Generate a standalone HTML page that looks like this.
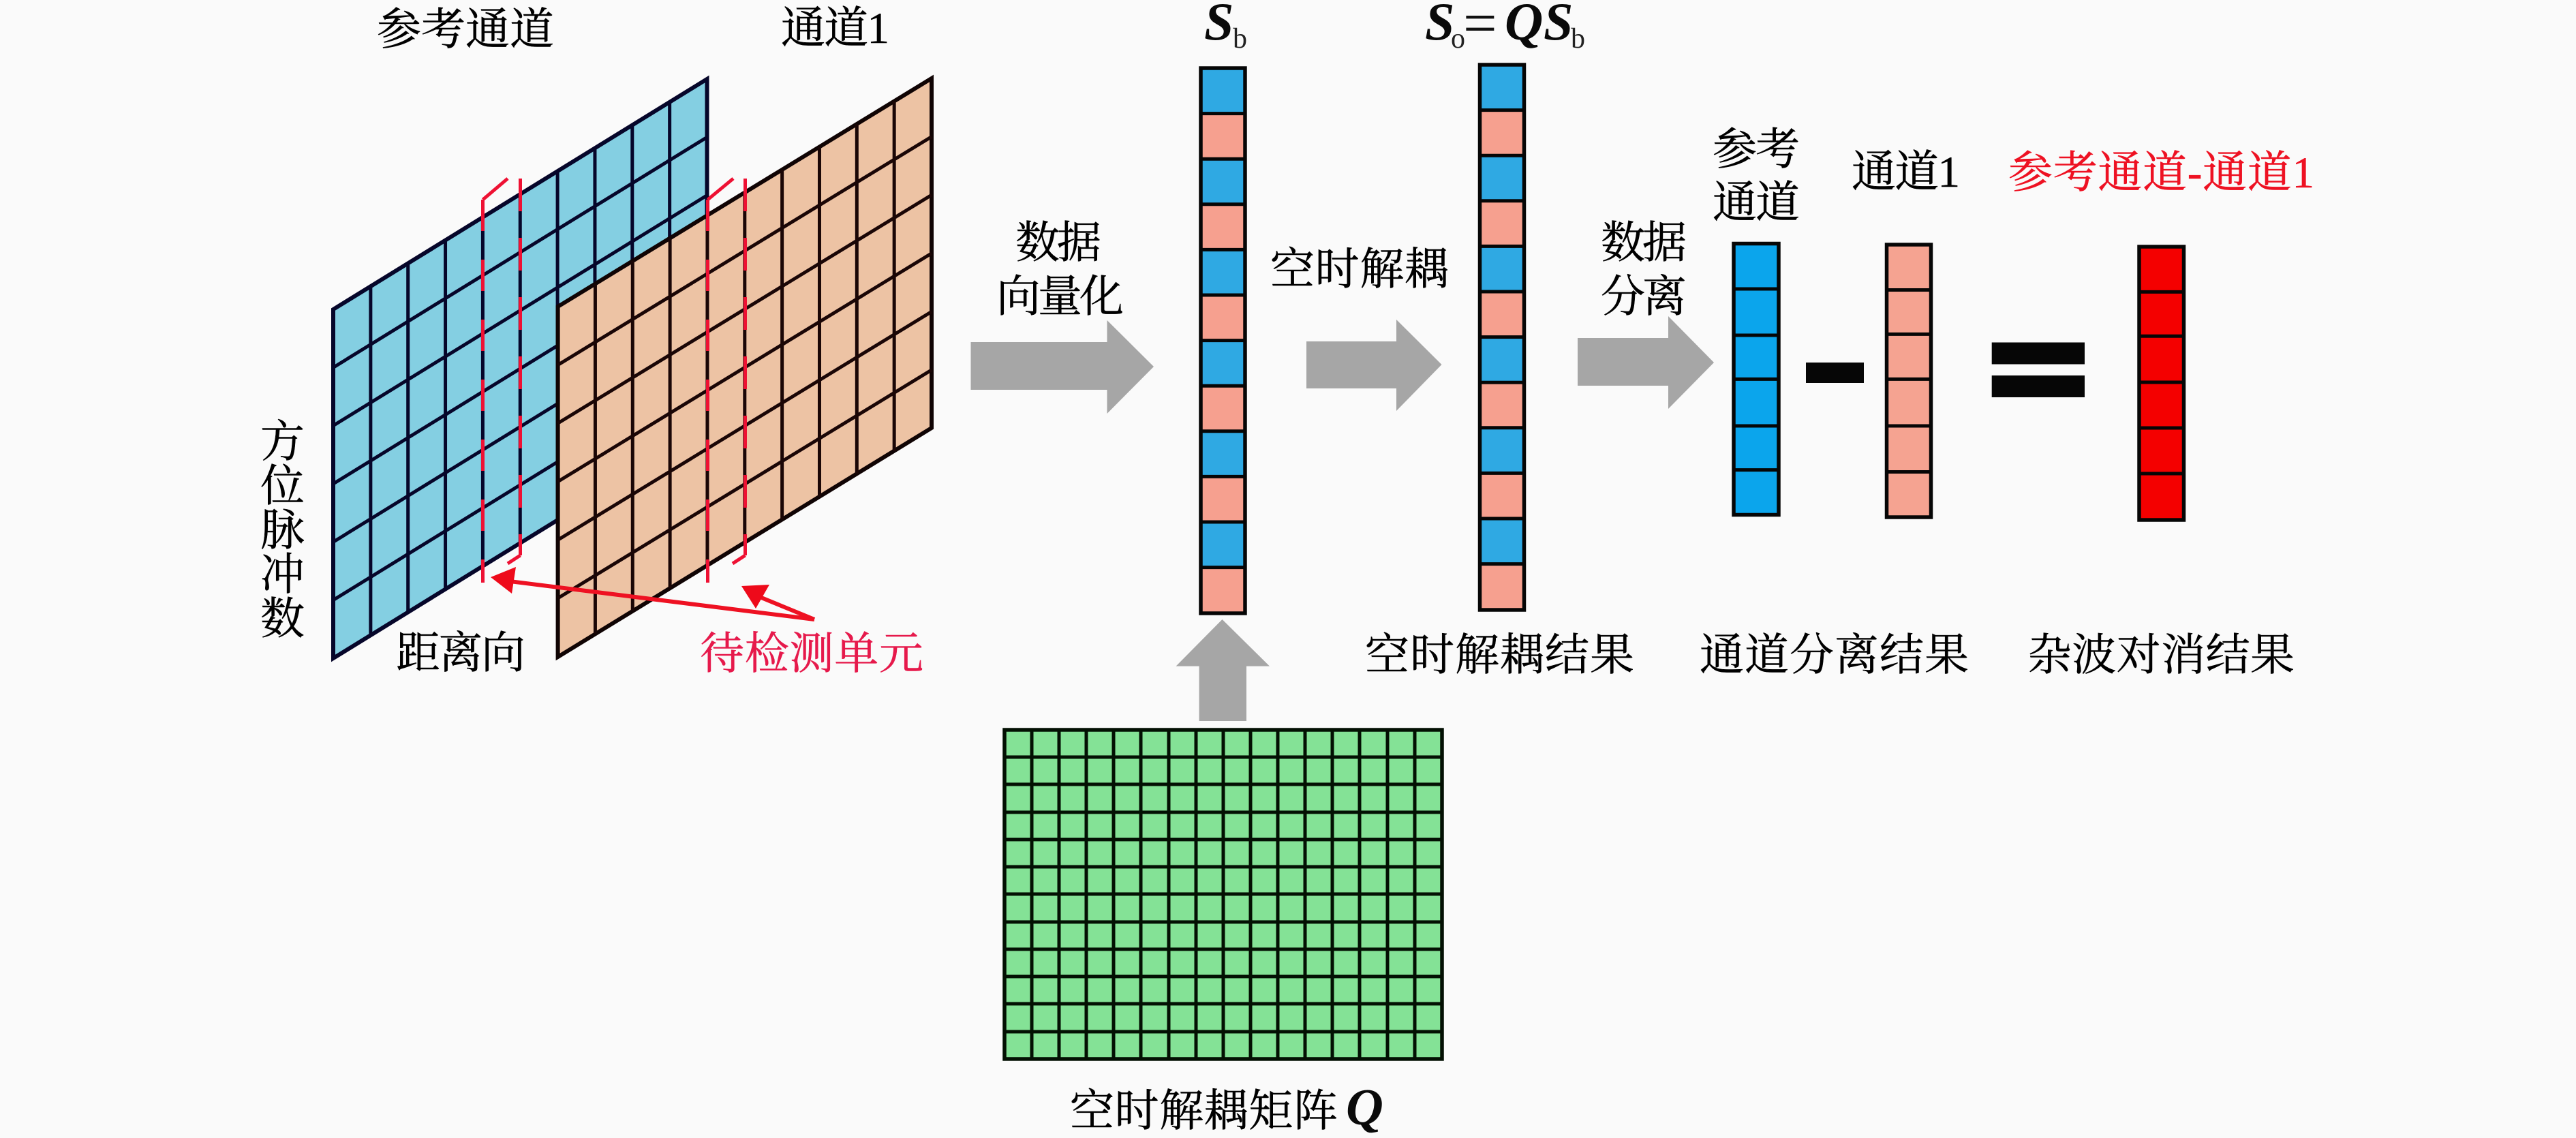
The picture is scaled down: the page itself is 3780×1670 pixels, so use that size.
<!DOCTYPE html>
<html>
<head>
<meta charset="utf-8">
<style>
html,body{margin:0;padding:0;background:#fafafa;width:3780px;height:1670px;overflow:hidden}
svg{display:block}
.c{font-family:"Liberation Serif","Noto Serif CJK SC",serif;font-size:65px;fill:#000;stroke:#000;stroke-width:.5px}
.m{font-family:"Liberation Serif",serif;font-weight:bold;font-style:italic;font-size:78px;fill:#0a0a0a}
.s{font-family:"Liberation Serif",serif;font-size:42px;fill:#222}
</style>
</head>
<body>
<svg xmlns="http://www.w3.org/2000/svg" width="3780" height="1670" viewBox="0 0 3780 1670">
<rect width="3780" height="1670" fill="#fafafa"/>

<!-- blue panel -->
<polygon points="489,454 1037.5,116 1037.5,628 489,966" fill="#84cfe2" stroke="#06062a" stroke-width="6"/>
<path fill="none" stroke="#06062a" stroke-width="5" d="M543.85 420.2V932.2M598.7 386.4V898.4M653.55 352.6V864.6M708.4 318.8V830.8M763.25 285V797M818.1 251.2V763.2M872.95 217.4V729.4M927.8 183.6V695.6M982.65 149.8V661.8M489 539.33L1037.5 201.33M489 624.67L1037.5 286.67M489 710L1037.5 372M489 795.33L1037.5 457.33M489 880.67L1037.5 542.67"/>

<!-- orange panel -->
<polygon points="818.6,450 1367,115 1367,628 818.6,964" fill="#edc3a4" stroke="#100404" stroke-width="6"/>
<path fill="none" stroke="#1a0606" stroke-width="5" d="M873.44 416.5V930M928.28 383V896.5M983.12 349.5V863M1037.96 316V829.5M1092.8 282.5V796M1147.64 249V762.5M1202.48 215.5V729M1257.32 182V695.5M1312.16 148.5V662M818.6 535.58L1367 200.58M818.6 621.17L1367 286.17M818.6 706.75L1367 371.75M818.6 792.33L1367 457.33M818.6 877.92L1367 542.92"/>

<!-- red dashed detection cells -->
<g fill="none" stroke="#ee1133" stroke-width="5">
<path d="M708.5 293L745 262M763.5 815L745 827M1038.5 293L1076 262M1093.5 815L1075 827"/>
<path stroke-dasharray="46 42" d="M708.5 293V855"/>
<path stroke-dasharray="48 39" d="M763.5 262V815"/>
<path stroke-dasharray="46 42" d="M1038.5 293V855"/>
<path stroke-dasharray="48 39" d="M1093.5 262V815"/>
</g>

<!-- red pointers -->
<g stroke="#ee1122" stroke-width="6" fill="none">
<path d="M1195 909L740 852M1195 909L1105 872"/>
</g>
<polygon points="720,847 757,832 751,871" fill="#ee0a1a"/>
<polygon points="1088,860 1129,858 1109,893" fill="#ee0a1a"/>

<!-- gray arrows -->
<g fill="#a6a6a6">
<polygon points="1424.5,502 1624.5,502 1624.5,470 1693,538 1624.5,607 1624.5,572 1424.5,572"/>
<polygon points="1917,501 2049,501 2049,469 2115.5,535 2049,603 2049,570 1917,570"/>
<polygon points="2315,496 2448,496 2448,464 2515,532 2448,600 2448,566 2315,566"/>
<polygon points="1793.5,909 1863,977.6 1829,977.6 1829,1058 1759.6,1058 1759.6,977.6 1725.6,977.6"/>
</g>

<!-- Sb bar -->
<rect x="1762" y="100" width="65" height="799" fill="#f6a08f"/>
<g fill="#2fa9e3">
<rect x="1762" y="100" width="65" height="66.6"/><rect x="1762" y="233.2" width="65" height="66.6"/><rect x="1762" y="366.4" width="65" height="66.6"/><rect x="1762" y="499.6" width="65" height="66.6"/><rect x="1762" y="632.8" width="65" height="66.6"/><rect x="1762" y="766" width="65" height="66.6"/>
</g>
<rect x="1762" y="100" width="65" height="800" fill="none" stroke="#060606" stroke-width="5.5"/>
<path stroke="#060606" stroke-width="5" d="M1762 166.6H1827M1762 233.2H1827M1762 299.8H1827M1762 366.4H1827M1762 433H1827M1762 499.6H1827M1762 566.2H1827M1762 632.8H1827M1762 699.4H1827M1762 766H1827M1762 832.6H1827"/>

<!-- So bar -->
<rect x="2171.5" y="95" width="65" height="799" fill="#f6a08f"/>
<g fill="#2fa9e3">
<rect x="2171.5" y="95" width="65" height="66.6"/><rect x="2171.5" y="228.2" width="65" height="66.6"/><rect x="2171.5" y="361.4" width="65" height="66.6"/><rect x="2171.5" y="494.6" width="65" height="66.6"/><rect x="2171.5" y="627.8" width="65" height="66.6"/><rect x="2171.5" y="761" width="65" height="66.6"/>
</g>
<rect x="2171.5" y="95" width="65" height="800" fill="none" stroke="#060606" stroke-width="5.5"/>
<path stroke="#060606" stroke-width="5" d="M2171.5 161.6H2236.5M2171.5 228.2H2236.5M2171.5 294.8H2236.5M2171.5 361.4H2236.5M2171.5 428H2236.5M2171.5 494.6H2236.5M2171.5 561.2H2236.5M2171.5 627.8H2236.5M2171.5 694.4H2236.5M2171.5 761H2236.5M2171.5 827.6H2236.5"/>

<!-- right bars -->
<rect x="2544" y="357.5" width="66" height="398" fill="#0ba5ec" stroke="#060606" stroke-width="5.5"/>
<path stroke="#060606" stroke-width="5" d="M2544 424H2610M2544 492H2610M2544 556.4H2610M2544 625H2610M2544 689.6H2610"/>
<rect x="2768.5" y="359" width="65" height="400" fill="#f5a391" stroke="#060606" stroke-width="5.5"/>
<path stroke="#060606" stroke-width="5" d="M2768.5 425.5H2833.5M2768.5 490.4H2833.5M2768.5 556.4H2833.5M2768.5 625H2833.5M2768.5 692.5H2833.5"/>
<rect x="3139" y="362" width="65.5" height="401" fill="#f40000" stroke="#060606" stroke-width="5.5"/>
<path stroke="#060606" stroke-width="5" d="M3139 428.4H3204.5M3139 493.3H3204.5M3139 561H3204.5M3139 628H3204.5M3139 695H3204.5"/>

<!-- minus / equals -->
<rect x="2650" y="532" width="85" height="30" fill="#060606"/>
<rect x="2922.7" y="502.5" width="136.3" height="32" fill="#060606"/>
<rect x="2922.7" y="551" width="136.3" height="32" fill="#060606"/>

<!-- green matrix -->
<rect x="1474" y="1071" width="642" height="483" fill="#84e296" stroke="#031003" stroke-width="5.5"/>
<path fill="none" stroke="#031003" stroke-width="5" d="M1514 1071V1554M1554 1071V1554M1594 1071V1554M1634 1071V1554M1674 1071V1554M1715 1071V1554M1755 1071V1554M1795 1071V1554M1835 1071V1554M1875 1071V1554M1915 1071V1554M1955 1071V1554M1995 1071V1554M2036 1071V1554M2076 1071V1554M1474 1111H2116M1474 1151H2116M1474 1192H2116M1474 1232H2116M1474 1272H2116M1474 1312H2116M1474 1353H2116M1474 1393H2116M1474 1433H2116M1474 1473H2116M1474 1514H2116"/>

<!-- labels -->
<text class="c" x="553" y="65" textLength="260" lengthAdjust="spacing">参考通道</text>
<text class="c" x="1146" y="63" textLength="159" lengthAdjust="spacing">通道1</text>
<text class="c" x="382" y="670">方</text>
<text class="c" x="382" y="735">位</text>
<text class="c" x="382" y="800">脉</text>
<text class="c" x="382" y="865">冲</text>
<text class="c" x="382" y="930">数</text>
<text class="c" x="581" y="980" textLength="190" lengthAdjust="spacing">距离向</text>
<text class="c" x="1027" y="981" textLength="328" lengthAdjust="spacing" style="fill:#e6194b;stroke:#e6194b">待检测单元</text>

<text class="c" x="1490" y="378" textLength="126" lengthAdjust="spacing">数据</text>
<text class="c" x="1462" y="457" textLength="187" lengthAdjust="spacing">向量化</text>
<text class="c" x="1864" y="417" textLength="262" lengthAdjust="spacing">空时解耦</text>
<text class="c" x="2349" y="378" textLength="126" lengthAdjust="spacing">数据</text>
<text class="c" x="2349" y="457" textLength="126" lengthAdjust="spacing">分离</text>
<text class="c" x="2003" y="983" textLength="395" lengthAdjust="spacing">空时解耦结果</text>
<text class="c" x="2513" y="241" textLength="128" lengthAdjust="spacing">参考</text>
<text class="c" x="2513" y="319" textLength="128" lengthAdjust="spacing">通道</text>
<text class="c" x="2717" y="274" textLength="159" lengthAdjust="spacing">通道1</text>
<text class="c" x="2947" y="275" textLength="449" lengthAdjust="spacing" style="fill:#ee1122;stroke:#ee1122">参考通道-通道1</text>
<text class="c" x="2494" y="983" textLength="395" lengthAdjust="spacing">通道分离结果</text>
<text class="c" x="2975" y="983" textLength="392" lengthAdjust="spacing">杂波对消结果</text>
<text class="c" x="1570" y="1652" textLength="393" lengthAdjust="spacing">空时解耦矩阵</text>
<text class="m" x="1975" y="1650" style="font-size:76px">Q</text>

<!-- math -->
<text class="m" x="1767" y="58">S</text>
<text class="s" x="1809" y="70">b</text>
<text class="m" x="2091" y="58">S</text>
<text class="s" x="2129" y="70">o</text>
<text x="2147" y="63" style="font-family:'Liberation Serif',serif;font-size:88px;fill:#111">=</text>
<text class="m" x="2208" y="58">Q</text>
<text class="m" x="2265" y="58">S</text>
<text class="s" x="2305" y="70">b</text>
</svg>
</body>
</html>
